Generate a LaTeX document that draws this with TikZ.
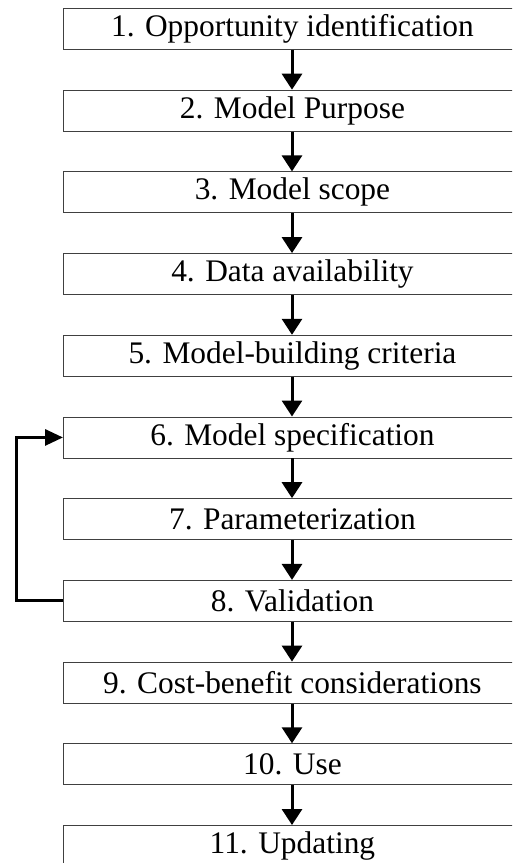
\documentclass[tikz,border=0pt]{standalone}
\usepackage{fontspec}
\setmainfont{Liberation Serif}
\usetikzlibrary{arrows.meta}
\begin{document}
\begin{tikzpicture}[x=1pt,y=-1pt,
  stepbox/.style={draw=black!75,line width=0.9pt,minimum width=458pt,minimum height=41pt,inner sep=0pt,font=\fontsize{31.4}{32}\selectfont,anchor=north west},
  flow/.style={line width=3pt,-{Triangle[length=16pt,width=20pt]}}]
\clip (0,0) rectangle (512,863);
\fill[white] (0,0) rectangle (512,863);
\foreach \i/\t in {1/1. Opportunity identification,2/2. Model Purpose,3/3. Model scope,4/4. Data availability,5/5. Model-building criteria,6/6. Model specification,7/7. Parameterization,8/8. Validation,9/9. Cost-benefit considerations,10/10. Use,11/11. Updating}{
  \node[stepbox] (b\i) at (63,{8+81.7*(\i-1)}) {\t};
}
\foreach \i [evaluate=\i as \j using int(\i+1)] in {1,...,10}{
  \draw[flow] (b\i.south -| 292,0) -- (b\j.north -| 292,0);
}
\coordinate (c) at (16,0);
\draw[line width=3pt,-{Triangle[length=18pt,width=16pt]}] (b8.west) -- (b8.west -| c) -- (b6.west -| c) -- (b6.west);
\end{tikzpicture}
\end{document}
